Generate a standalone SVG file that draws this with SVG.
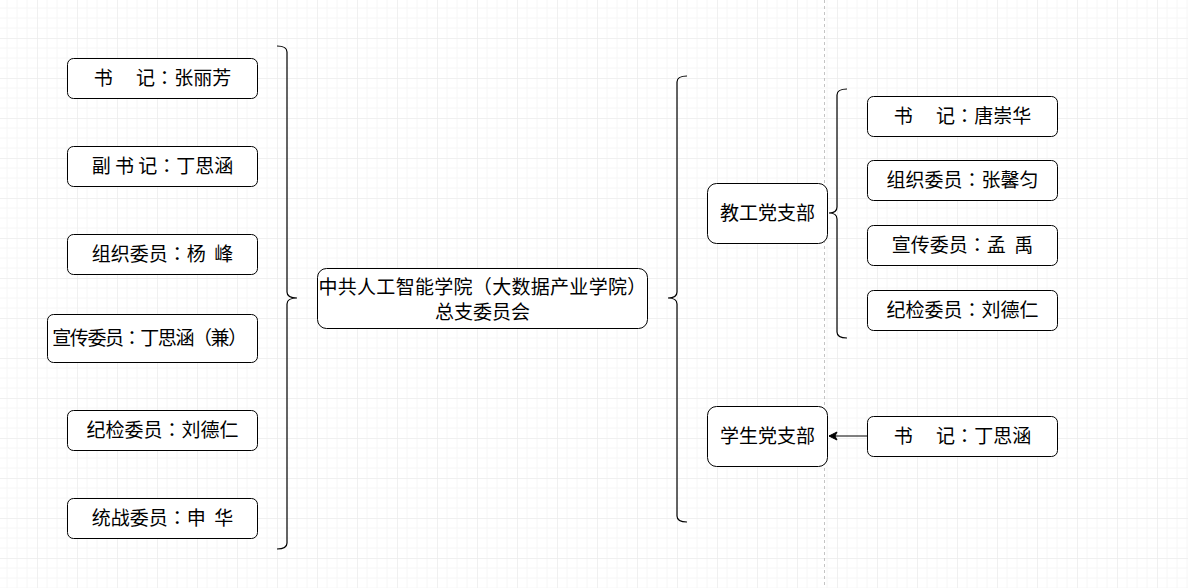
<svg xmlns="http://www.w3.org/2000/svg" width="1188" height="588" viewBox="0 0 1188 588">
<defs>
<pattern id="grid" patternUnits="userSpaceOnUse" x="-3" y="-2" width="40" height="40">
<path d="M10,0V40M20,0V40M30,0V40M0,10H40M0,20H40M0,30H40" stroke="#f6f6f6" stroke-width="1" fill="none"/>
<path d="M0,0V40M0,0H40" stroke="#ececec" stroke-width="1.5" fill="none"/>
</pattern>
<marker id="arr" markerWidth="10" markerHeight="10" refX="9" refY="5" orient="auto" markerUnits="userSpaceOnUse">
<path d="M9,5 L1,1 L3,5 L1,9 Z" fill="#000" stroke="#000" stroke-width="1"/>
</marker>
</defs>
<style>
.box{fill:#fff;stroke:#000;stroke-width:1}
.t{font-family:"Noto Sans CJK SC","Noto Sans",sans-serif;font-size:19px;fill:#000;text-anchor:middle}
.c{font-family:"Noto Sans CJK TC","Noto Sans CJK SC",sans-serif}
.br{fill:none;stroke:#000;stroke-width:1.2}
</style>
<rect width="1188" height="588" fill="#fff"/>
<rect width="1188" height="588" fill="url(#grid)"/>
<line x1="824.5" y1="0" x2="824.5" y2="588" stroke="#c4c4c4" stroke-dasharray="3 3"/>
<g id="connectors">
<path class="br" d="M277,46 Q287,46 287,52 L287,292 Q287,298 297,298 Q287,298 287,304 L287,543 Q287,549 277,549"/>
<path class="br" d="M687,76 Q677,76 677,82 L677,292 Q677,298 668,298 Q677,298 677,304 L677,516 Q677,522 687,522"/>
<path class="br" d="M847,89 Q837,89 837,95 L837,207 Q837,213 829,213 Q837,213 837,219 L837,332 Q837,338 847,338"/>
<line x1="867" y1="436" x2="829" y2="436" stroke="#000" stroke-width="1" marker-end="url(#arr)"/>
</g>
<g id="n-sj"><rect class="box" x="67.5" y="58.5" width="190" height="40" rx="6"/><text class="t" x="162.5" y="85" xml:space="preserve">书　 记<tspan class="c">：</tspan>张丽芳</text></g>
<g id="n-fsj"><rect class="box" x="67.5" y="146.5" width="190" height="40" rx="6"/><text class="t" x="162.5" y="173" xml:space="preserve">副 书 记<tspan class="c">：</tspan>丁思涵</text></g>
<g id="n-zz"><rect class="box" x="67.5" y="234.5" width="190" height="40" rx="6"/><text class="t" x="162.5" y="261" xml:space="preserve">组织委员<tspan class="c">：</tspan>杨  峰</text></g>
<g id="n-xc"><rect class="box" x="47.5" y="314.5" width="210" height="48" rx="6"/><text class="t" x="149" y="345" letter-spacing="-1.4" xml:space="preserve">宣传委员<tspan class="c">：</tspan>丁思涵（兼）</text></g>
<g id="n-jj"><rect class="box" x="67.5" y="410.5" width="190" height="40" rx="6"/><text class="t" x="162.5" y="437" xml:space="preserve">纪检委员<tspan class="c">：</tspan>刘德仁</text></g>
<g id="n-tz"><rect class="box" x="67.5" y="498.5" width="190" height="40" rx="6"/><text class="t" x="162.5" y="525" xml:space="preserve">统战委员<tspan class="c">：</tspan>申  华</text></g>
<g id="n-center"><rect class="box" x="317.5" y="268.5" width="330" height="60" rx="9"/><text class="t" x="482.5" y="293.5" letter-spacing="0.3">中共人工智能学院（大数据产业学院）</text><text class="t" x="482.5" y="318.5">总支委员会</text></g>
<g id="n-jg"><rect class="box" x="707.5" y="183.5" width="120" height="60" rx="9"/><text class="t" x="767.5" y="220">教工党支部</text></g>
<g id="n-xs"><rect class="box" x="707.5" y="406.5" width="120" height="60" rx="9"/><text class="t" x="767.5" y="443">学生党支部</text></g>
<g id="n-jg-sj"><rect class="box" x="867.5" y="96.5" width="190" height="40" rx="6"/><text class="t" x="962.5" y="123" xml:space="preserve">书　 记<tspan class="c">：</tspan>唐崇华</text></g>
<g id="n-jg-zz"><rect class="box" x="867.5" y="160.5" width="190" height="40" rx="6"/><text class="t" x="962.5" y="187" xml:space="preserve">组织委员<tspan class="c">：</tspan>张馨匀</text></g>
<g id="n-jg-xc"><rect class="box" x="867.5" y="225.5" width="190" height="40" rx="6"/><text class="t" x="962.5" y="252" xml:space="preserve">宣传委员<tspan class="c">：</tspan>孟  禹</text></g>
<g id="n-jg-jj"><rect class="box" x="867.5" y="290.5" width="190" height="40" rx="6"/><text class="t" x="962.5" y="317" xml:space="preserve">纪检委员<tspan class="c">：</tspan>刘德仁</text></g>
<g id="n-xs-sj"><rect class="box" x="867.5" y="416.5" width="190" height="40" rx="6"/><text class="t" x="962.5" y="443" xml:space="preserve">书　 记<tspan class="c">：</tspan>丁思涵</text></g>
</svg>
